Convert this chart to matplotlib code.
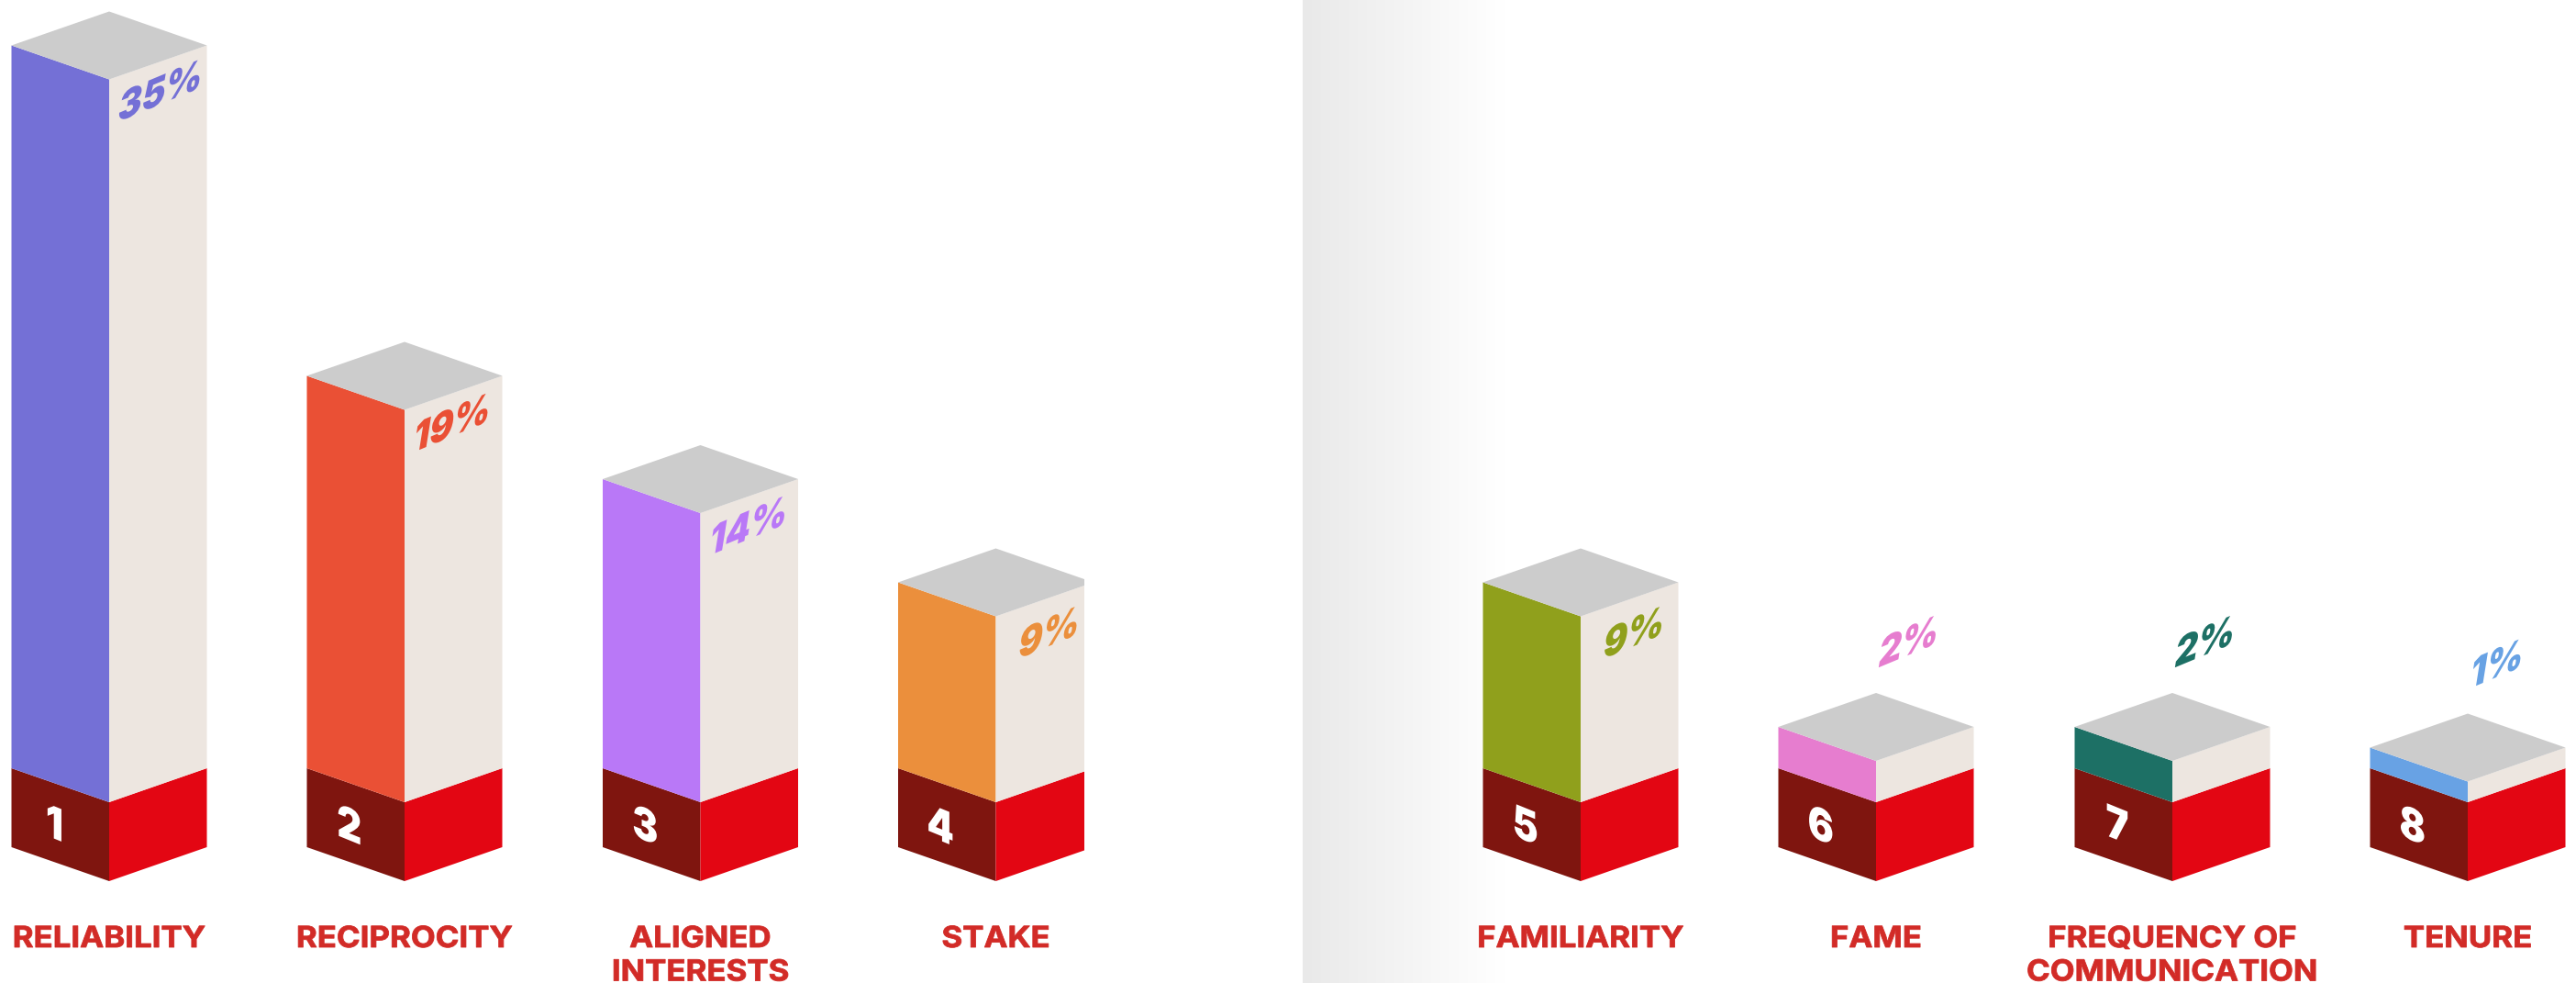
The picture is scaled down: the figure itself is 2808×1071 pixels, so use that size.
import numpy as np
import matplotlib
matplotlib.use("Agg")
import matplotlib.pyplot as plt
from matplotlib.patches import Polygon, Rectangle
from matplotlib.patheffects import AbstractPathEffect
from matplotlib.transforms import Affine2D
from matplotlib.colors import LinearSegmentedColormap

# ---- data ----
ranks = ["1", "2", "3", "4", "5", "6", "7", "8"]
categories = ["RELIABILITY", "RECIPROCITY", "ALIGNED\nINTERESTS", "STAKE",
              "FAMILIARITY", "FAME", "FREQUENCY OF\nCOMMUNICATION", "TENURE"]
values = [35, 19, 14, 9, 9, 2, 2, 1]
colors = ["#7470D6", "#EA5035", "#B978F7", "#EB8F3C",
          "#90A01C", "#E67DCF", "#1D7065", "#68A2E4"]

# ---- layout (pixels) ----
W, H = 2808, 1071
PX = 22.5          # pixels per percentage point
Y0 = 837           # y pixel of value 0 at the side corners
HALF = 106.5
DEPTH = 37
BASE = 86
centers = [119, 441, 763.5, 1085.5, 1723, 2045, 2368, 2690]
right_clip = [None, None, None, 1182, None, None, None, None]  # bar 4 is cut off on its right edge

BEIGE, GREY, DARK, RED, LABEL = "#EDE6E0", "#CCCCCC", "#7F150F", "#E30613", "#D22B27"


class Warp(AbstractPathEffect):
    """Shear / stretch glyphs around the text origin or a fixed x, optionally emboldened."""
    def __init__(self, ky=0.0, kx=0.0, sx=1.0, cx=None, bold=0.0):
        self.ky, self.kx, self.sx, self.cx, self.bold = ky, kx, sx, cx, bold

    def draw_path(self, renderer, gc, tpath, affine, rgbFace=None):
        m = affine.get_matrix()
        ox = m[0, 2] if self.cx is None else self.cx
        oy = m[1, 2]
        warp = Affine2D(np.array([[self.sx, self.kx, 0],
                                  [self.ky, 1.0, 0],
                                  [0, 0, 1.0]]))
        t = affine + Affine2D().translate(-ox, -oy) + warp + Affine2D().translate(ox, oy)
        gc0 = renderer.new_gc()
        gc0.copy_properties(gc)
        if self.bold:
            gc0.set_linewidth(self.bold)
            gc0.set_foreground(rgbFace)
            gc0.set_joinstyle("round")
        renderer.draw_path(gc0, tpath, t, rgbFace)
        gc0.restore()


fig = plt.figure(figsize=(W / 100, H / 100), dpi=100, facecolor="white")
ax = fig.add_axes([0, 0, 1, 1])
ymin, ymax = -(H - Y0) / PX, Y0 / PX
to_val = lambda px: px / PX   # pixel offset -> value units

# background gradient of the right-hand panel
cmap = LinearSegmentedColormap.from_list("g", ["#E9E9E9", "#FFFFFF"])
ax.imshow(np.linspace(0, 1, 256)[None, :], cmap=cmap, aspect="auto",
          extent=(1420, 1640, ymin, ymax), zorder=0)
ax.set_xlim(0, W)
ax.set_ylim(ymin, ymax)
ax.axis("off")


def face(pts, color, z=2, clip=None):
    p = Polygon(pts, closed=True, facecolor=color, edgecolor="none", zorder=z)
    ax.add_patch(p)
    if clip is not None:
        p.set_clip_path(Rectangle((0, ymin), clip, ymax - ymin, transform=ax.transData))


d, b = to_val(DEPTH), to_val(BASE)
FONT = "Inter"
for c, v, col, rank, cat, clip in zip(centers, values, colors, ranks, categories, right_clip):
    L, R = c - HALF, c + HALF
    face([(L, 0), (c, -d), (c, -d - b), (L, -b)], DARK)
    face([(R, 0), (c, -d), (c, -d - b), (R, -b)], RED, clip=clip)
    face([(L, 0), (c, -d), (c, v - d), (L, v)], col)
    face([(R, 0), (c, -d), (c, v - d), (R, v)], BEIGE, clip=clip)
    face([(L, v), (c, v + d), (R, v), (c, v - d)], GREY, 3, clip=clip)

    ax.text(c - 58, to_val(Y0 - 910), rank, color="white", fontsize=35, family=FONT,
            weight="black", ha="center", va="baseline", zorder=5,
            path_effects=[Warp(ky=-0.35, sx=0.86)])

    if v >= 9:
        dx = 8 if v >= 10 else 23
        dy = 47
    else:
        dx = 1
        dy = -101
    ax.text(c + dx, v - d - to_val(dy), f"{v}%", color=col, fontsize=33, family=FONT,
            weight="black", ha="left", va="baseline", zorder=5,
            path_effects=[Warp(ky=0.35, kx=0.16, sx=0.84)])

    ax.text(c, to_val(Y0 - 1008), cat, color=LABEL, fontsize=23, family=FONT,
            weight="bold", ha="center", va="top",
            multialignment="center", linespacing=1.23, zorder=5,
            path_effects=[Warp(sx=1.09, cx=c, bold=0.6)])

fig.savefig("out.png", dpi=100, facecolor="white")
